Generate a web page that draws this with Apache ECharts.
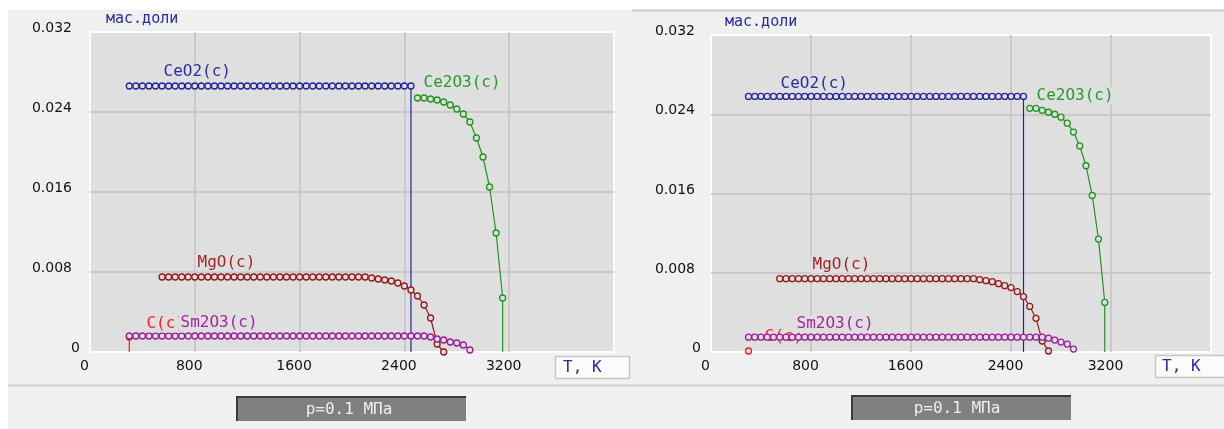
<!DOCTYPE html>
<html>
<head>
<meta charset="utf-8">
<script src="https://cdn.jsdelivr.net/npm/echarts@6/dist/echarts.min.js"></script>
<style>
  html, body { margin: 0; padding: 0; background: #ffffff; }
  #chart { width: 1224px; height: 429px; }
</style>
</head>
<body>
<div id="chart"></div>
<script>
// Temperature grid of the equilibrium calculation, K
const temperature = [
  300, 350, 400, 450, 500, 550, 600, 650, 700, 750,
  800, 850, 900, 950, 1000, 1050, 1100, 1150, 1200, 1250,
  1300, 1350, 1400, 1450, 1500, 1550, 1600, 1650, 1700, 1750,
  1800, 1850, 1900, 1950, 2000, 2050, 2100, 2150, 2200, 2250,
  2300, 2350, 2400, 2450, 2500, 2550, 2600, 2650, 2700, 2750,
  2800, 2850, 2900, 2950, 3000, 3050, 3100, 3150
];

// Mass fractions of condensed phases, aligned with `temperature` (null = phase absent)
// Composition A
const ceo2A = [
  0.0266, 0.0266, 0.0266, 0.0266, 0.0266, 0.0266, 0.0266, 0.0266, 0.0266, 0.0266,
  0.0266, 0.0266, 0.0266, 0.0266, 0.0266, 0.0266, 0.0266, 0.0266, 0.0266, 0.0266,
  0.0266, 0.0266, 0.0266, 0.0266, 0.0266, 0.0266, 0.0266, 0.0266, 0.0266, 0.0266,
  0.0266, 0.0266, 0.0266, 0.0266, 0.0266, 0.0266, 0.0266, 0.0266, 0.0266, 0.0266,
  0.0266, 0.0266, 0.0266, 0.0266
];
const ce2o3A = [
  null, null, null, null, null, null, null, null, null, null,
  null, null, null, null, null, null, null, null, null, null,
  null, null, null, null, null, null, null, null, null, null,
  null, null, null, null, null, null, null, null, null, null,
  null, null, null, null, 0.0254, 0.0254, 0.0253, 0.0252, 0.0250, 0.0247,
  0.0243, 0.0238, 0.0230, 0.0214, 0.0195, 0.0165, 0.0119, 0.0054
];
const mgoA = [
  null, null, null, null, null, 0.0075, 0.0075, 0.0075, 0.0075, 0.0075,
  0.0075, 0.0075, 0.0075, 0.0075, 0.0075, 0.0075, 0.0075, 0.0075, 0.0075, 0.0075,
  0.0075, 0.0075, 0.0075, 0.0075, 0.0075, 0.0075, 0.0075, 0.0075, 0.0075, 0.0075,
  0.0075, 0.0075, 0.0075, 0.0075, 0.0075, 0.0075, 0.0075, 0.0074, 0.0073, 0.0072,
  0.0071, 0.0069, 0.0066, 0.0062, 0.0056, 0.0047, 0.0034, 0.0008, 0.0000
];
const sm2o3A = [
  0.0016, 0.0016, 0.0016, 0.0016, 0.0016, 0.0016, 0.0016, 0.0016, 0.0016, 0.0016,
  0.0016, 0.0016, 0.0016, 0.0016, 0.0016, 0.0016, 0.0016, 0.0016, 0.0016, 0.0016,
  0.0016, 0.0016, 0.0016, 0.0016, 0.0016, 0.0016, 0.0016, 0.0016, 0.0016, 0.0016,
  0.0016, 0.0016, 0.0016, 0.0016, 0.0016, 0.0016, 0.0016, 0.0016, 0.0016, 0.0016,
  0.0016, 0.0016, 0.0016, 0.0016, 0.0016, 0.0016, 0.0015, 0.0013, 0.0012, 0.0010,
  0.0009, 0.0007, 0.0002
];
const carbonA = [0.0015];

// Composition B
const ceo2B = [
  0.0258, 0.0258, 0.0258, 0.0258, 0.0258, 0.0258, 0.0258, 0.0258, 0.0258, 0.0258,
  0.0258, 0.0258, 0.0258, 0.0258, 0.0258, 0.0258, 0.0258, 0.0258, 0.0258, 0.0258,
  0.0258, 0.0258, 0.0258, 0.0258, 0.0258, 0.0258, 0.0258, 0.0258, 0.0258, 0.0258,
  0.0258, 0.0258, 0.0258, 0.0258, 0.0258, 0.0258, 0.0258, 0.0258, 0.0258, 0.0258,
  0.0258, 0.0258, 0.0258, 0.0258, 0.0258
];
const ce2o3B = [
  null, null, null, null, null, null, null, null, null, null,
  null, null, null, null, null, null, null, null, null, null,
  null, null, null, null, null, null, null, null, null, null,
  null, null, null, null, null, null, null, null, null, null,
  null, null, null, null, null, 0.0246, 0.0246, 0.0244, 0.0242, 0.0240,
  0.0237, 0.0231, 0.0222, 0.0208, 0.0188, 0.0158, 0.0114, 0.0050
];
const mgoB = [
  null, null, null, null, null, 0.0074, 0.0074, 0.0074, 0.0074, 0.0074,
  0.0074, 0.0074, 0.0074, 0.0074, 0.0074, 0.0074, 0.0074, 0.0074, 0.0074, 0.0074,
  0.0074, 0.0074, 0.0074, 0.0074, 0.0074, 0.0074, 0.0074, 0.0074, 0.0074, 0.0074,
  0.0074, 0.0074, 0.0074, 0.0074, 0.0074, 0.0074, 0.0074, 0.0073, 0.0072, 0.0071,
  0.0069, 0.0067, 0.0065, 0.0061, 0.0056, 0.0046, 0.0034, 0.0011, 0.0001
];
const sm2o3B = [
  0.0015, 0.0015, 0.0015, 0.0015, 0.0015, 0.0015, 0.0015, 0.0015, 0.0015, 0.0015,
  0.0015, 0.0015, 0.0015, 0.0015, 0.0015, 0.0015, 0.0015, 0.0015, 0.0015, 0.0015,
  0.0015, 0.0015, 0.0015, 0.0015, 0.0015, 0.0015, 0.0015, 0.0015, 0.0015, 0.0015,
  0.0015, 0.0015, 0.0015, 0.0015, 0.0015, 0.0015, 0.0015, 0.0015, 0.0015, 0.0015,
  0.0015, 0.0015, 0.0015, 0.0015, 0.0015, 0.0015, 0.0015, 0.0015, 0.0014, 0.0012,
  0.0010, 0.0008, 0.0003
];
const carbonB = [0.0001];

// Temperatures at which a phase vanishes (fraction drops to zero), K
const vanishA = { CeO2: 2450, Ce2O3: 3150, C: 300 };
const vanishB = { CeO2: 2500, Ce2O3: 3150 };

// Axis ranges and texts
const xRange = [0, 4000, 800];
const yRange = [0, 0.032, 0.008];
const yAxisTitle = 'мас.доли';
const xAxisTitle = 'T, K';
const pressureLabel = 'p=0.1 МПа';

// Styling
const colors = {
  CeO2: '#24249a', Ce2O3: '#1f961f', MgO: '#931c1c', Sm2O3: '#9a1e9a', C: '#ff1c1c'
};
const labelColors = {
  CeO2: '#2a2aa6', Ce2O3: '#239a29', MgO: '#a02626', Sm2O3: '#a026a0', C: '#ff2020'
};
const plotBg = '#dfdfdf';
const mono = 'DejaVu Sans Mono';

// Curve-label anchors (data coordinates: left edge, vertical centre)
const labelAnchors = [
  { CeO2: [542, 0.0280], Ce2O3: [2527, 0.0269], MgO: [802, 0.0089], Sm2O3: [672, 0.0029], C: [412, 0.0028] },
  { CeO2: [536, 0.0271], Ce2O3: [2584, 0.0259], MgO: [792, 0.0088], Sm2O3: [664, 0.0028], C: [408, 0.0015] }
];
const labelTexts = { CeO2: 'CeO2(c)', Ce2O3: 'Ce2O3(c)', MgO: 'MgO(c)', Sm2O3: 'Sm2O3(c)', C: 'C(c)' };

function toPairs(values) {
  const out = [];
  values.forEach((v, i) => { if (v !== null) out.push([temperature[i], v]); });
  return out;
}

function makeSeries(panel, key, values, vanishT, opts) {
  const data = toPairs(values);
  if (vanishT !== undefined) data.push({ value: [vanishT, 0], symbol: 'none' });
  const anchor = labelAnchors[panel][key];
  const underLines = opts && opts.labelUnder;
  return {
    type: 'line',
    name: key + '-' + panel,
    xAxisIndex: panel,
    yAxisIndex: panel,
    data: data,
    symbol: 'circle',
    symbolSize: 6,
    showSymbol: true,
    z: 2,
    lineStyle: { color: colors[key], width: 1.2 },
    itemStyle: { color: plotBg, borderColor: colors[key], borderWidth: 1.3 },
    emphasis: { disabled: true },
    animation: false,
    markPoint: {
      silent: true,
      animation: false,
      z: underLines ? 1 : (key === 'Sm2O3' ? 7 : 6),
      symbol: 'rect',
      symbolSize: 1,
      itemStyle: { color: 'rgba(0,0,0,0)' },
      label: {
        show: true,
        position: 'right',
        distance: 0,
        formatter: labelTexts[key],
        color: labelColors[key],
        fontFamily: mono,
        fontSize: 16,
        backgroundColor: underLines ? 'transparent' : plotBg,
        padding: [1, 2, 0, 2]
      },
      data: [{ coord: anchor }]
    }
  };
}

function xAxisFor(grid) {
  return {
    type: 'value', gridIndex: grid,
    min: xRange[0], max: xRange[1], interval: xRange[2],
    axisLine: { show: false }, axisTick: { show: false },
    splitLine: { show: true, showMinLine: false, showMaxLine: false,
                 lineStyle: { color: '#cacaca', width: 2 } },
    axisLabel: {
      showMaxLabel: false, margin: 7, padding: [0, 11, 0, 0],
      formatter: v => String(v),
      fontFamily: 'DejaVu Sans', fontSize: 14, color: '#111111'
    }
  };
}

function yAxisFor(grid, nameGap, namePad, gap) {
  const base = { fontFamily: 'DejaVu Sans', fontSize: 14, color: '#111111' };
  return {
    type: 'value', gridIndex: grid,
    min: yRange[0], max: yRange[1], interval: yRange[2],
    axisLine: { show: false }, axisTick: { show: false },
    splitLine: { show: true, showMinLine: false, showMaxLine: false,
                 lineStyle: { color: '#cacaca', width: 2 } },
    name: yAxisTitle,
    nameLocation: 'end',
    nameGap: nameGap,
    nameTextStyle: {
      align: 'left', verticalAlign: 'middle', padding: [0, 0, 0, namePad],
      fontFamily: mono, fontSize: 15, color: '#2a2aa6'
    },
    axisLabel: {
      margin: 10,
      align: 'right',
      verticalAlign: 'middle',
      padding: [0, 0, 7, 0],
      formatter: v => (v === 0 ? '{z|0}' : '{n|' + v.toFixed(3) + '}'),
      rich: {
        n: Object.assign({ padding: [0, gap, 0, 0] }, base),
        z: Object.assign({}, base)
      }
    }
  };
}

function boxText(x, y, text, color) {
  return { type: 'text', x: x, y: y, silent: true,
           style: { text: text, fill: color, fontFamily: mono, fontSize: 16, verticalAlign: 'middle' } };
}

const chart = echarts.init(document.getElementById('chart'), null, { renderer: 'canvas' });

chart.setOption({
  animation: false,
  backgroundColor: '#ffffff',
  grid: [
    { left: 90, top: 32, width: 524, height: 320, show: true,
      backgroundColor: plotBg, borderColor: '#ffffff', borderWidth: 2 },
    { left: 711, top: 35, width: 500, height: 317, show: true,
      backgroundColor: plotBg, borderColor: '#ffffff', borderWidth: 2 }
  ],
  xAxis: [xAxisFor(0), xAxisFor(1)],
  yAxis: [yAxisFor(0, 13, 16, 8), yAxisFor(1, 13, 14, 6)],
  graphic: {
    elements: [
      // panels
      { type: 'rect', z: -10, silent: true, shape: { x: 8, y: 10, width: 624, height: 419 }, style: { fill: '#f0f0f0' } },
      { type: 'rect', z: -10, silent: true, shape: { x: 632, y: 10, width: 592, height: 419 }, style: { fill: '#f0f0f0' } },
      { type: 'line', z: -9, silent: true, shape: { x1: 632, y1: 10.5, x2: 1224, y2: 10.5 }, style: { stroke: '#c9c9c9', lineWidth: 2 } },
      { type: 'line', z: -9, silent: true, shape: { x1: 8, y1: 385.5, x2: 1224, y2: 385.5 }, style: { stroke: '#d2d2d2', lineWidth: 2 } },
      // axis-name boxes
      { type: 'rect', silent: true, shape: { x: 555.5, y: 356.5, width: 74, height: 22 }, style: { fill: '#fbfbfb', stroke: '#c6c6c6', lineWidth: 1.5 } },
      boxText(563, 368, xAxisTitle, '#2a2aa6'),
      { type: 'rect', silent: true, shape: { x: 1155.5, y: 355.5, width: 80, height: 22 }, style: { fill: '#fbfbfb', stroke: '#c6c6c6', lineWidth: 1.5 } },
      boxText(1162, 367, xAxisTitle, '#2a2aa6'),
      // pressure bars
      { type: 'rect', silent: true, shape: { x: 236, y: 396, width: 230, height: 25 }, style: { fill: '#808080' } },
      { type: 'polyline', silent: true, shape: { points: [[237, 421], [237, 397], [466, 397]] }, style: { stroke: '#3a3a3a', lineWidth: 2, fill: null } },
      { type: 'text', x: 349, y: 409.5, silent: true,
        style: { text: pressureLabel, fill: '#eeeeee', fontFamily: mono, fontSize: 16, align: 'center', verticalAlign: 'middle' } },
      { type: 'rect', silent: true, shape: { x: 851, y: 395, width: 220, height: 25 }, style: { fill: '#808080' } },
      { type: 'polyline', silent: true, shape: { points: [[852, 420], [852, 396], [1071, 396]] }, style: { stroke: '#3a3a3a', lineWidth: 2, fill: null } },
      { type: 'text', x: 957, y: 408.5, silent: true,
        style: { text: pressureLabel, fill: '#eeeeee', fontFamily: mono, fontSize: 16, align: 'center', verticalAlign: 'middle' } }
    ]
  },
  series: [
    makeSeries(0, 'CeO2', ceo2A, vanishA.CeO2),
    makeSeries(0, 'Ce2O3', ce2o3A, vanishA.Ce2O3),
    makeSeries(0, 'MgO', mgoA),
    makeSeries(0, 'C', carbonA, vanishA.C),
    makeSeries(0, 'Sm2O3', sm2o3A),
    makeSeries(1, 'CeO2', ceo2B, vanishB.CeO2),
    makeSeries(1, 'Ce2O3', ce2o3B, vanishB.Ce2O3),
    makeSeries(1, 'MgO', mgoB),
    makeSeries(1, 'C', carbonB, undefined, { labelUnder: true }),
    makeSeries(1, 'Sm2O3', sm2o3B)
  ]
});
</script>
</body>
</html>
